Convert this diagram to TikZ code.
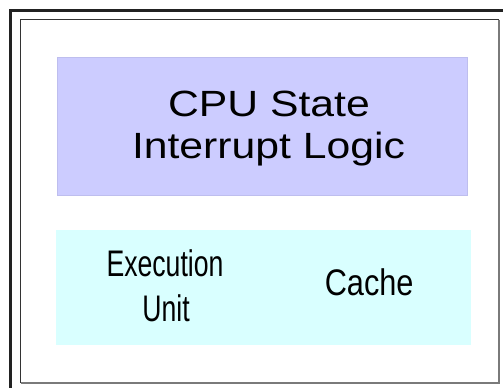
\documentclass[tikz,border=0pt]{standalone}
\usepackage{fontspec}
\setmainfont{Liberation Sans}
\newfontfamily\widefont[FakeStretch=1.17]{Liberation Sans}
\newfontfamily\narrowfont[FakeStretch=0.72]{Liberation Sans}
\newfontfamily\cachefont[FakeStretch=0.83]{Liberation Sans}
\definecolor{framedark}{HTML}{222222}
\definecolor{innerdark}{HTML}{333333}
\definecolor{innergray}{HTML}{7A7A7A}
\definecolor{statefill}{HTML}{CCCCFF}
\definecolor{stateline}{HTML}{BEBEEE}
\definecolor{unitfill}{HTML}{D9FFFF}
\tikzset{
  panel/.style={inner sep=0pt, outer sep=0pt},
  toptext/.style={anchor=base, inner sep=0pt, font=\widefont\fontsize{36.5pt}{37pt}\selectfont},
  unittext/.style={anchor=base, inner sep=0pt, font=\narrowfont\fontsize{37pt}{40pt}\selectfont},
  cachetext/.style={anchor=base, inner sep=0pt, font=\cachefont\fontsize{37pt}{40pt}\selectfont}
}
\begin{document}
\begin{tikzpicture}[x=1pt,y=-1pt]
\useasboundingbox (0,0) rectangle (503,388);
\fill[white] (0,0) rectangle (503,388);
% outer frame (cropped)
\coordinate (oTR) at (503,10.5);
\coordinate (oTL) at (10.5,10.5);
\coordinate (oBL) at (10.5,388);
\draw[framedark, line width=3pt] (oTR) -- (oTL) -- (oBL);
% inner frame
\coordinate (iTL) at (20.5,19.8);
\coordinate (iTR) at (499,19.8);
\coordinate (iBR) at (499,383.2);
\coordinate (iBL) at (20.5,383.2);
\draw[innergray, line width=1.7pt] (iTR) -- (iBR) -- (iBL);
\draw[innerdark, line width=1.3pt] (iBL) -- (iTL) -- (iTR);
% purple box
\draw[stateline, fill=statefill, line width=0.8pt] (57,57) rectangle (467,195);
\node[panel] (state) at (262,126) {};
% cyan box
\fill[unitfill] (56,230) rectangle (471,345);
\node[panel] (units) at (263.5,287.5) {};
% texts
\node[toptext] (cpu) at (269,116.7) {CPU State};
\node[toptext] (intr) at (268.5,158.3) {Interrupt Logic};
\node[unittext] (exec) at (165,276.5) {Execution};
\node[unittext] (unit) at (166,321) {Unit};
\node[cachetext] (cache) at (369.2,295.5) {Cache};
\end{tikzpicture}
\end{document}
